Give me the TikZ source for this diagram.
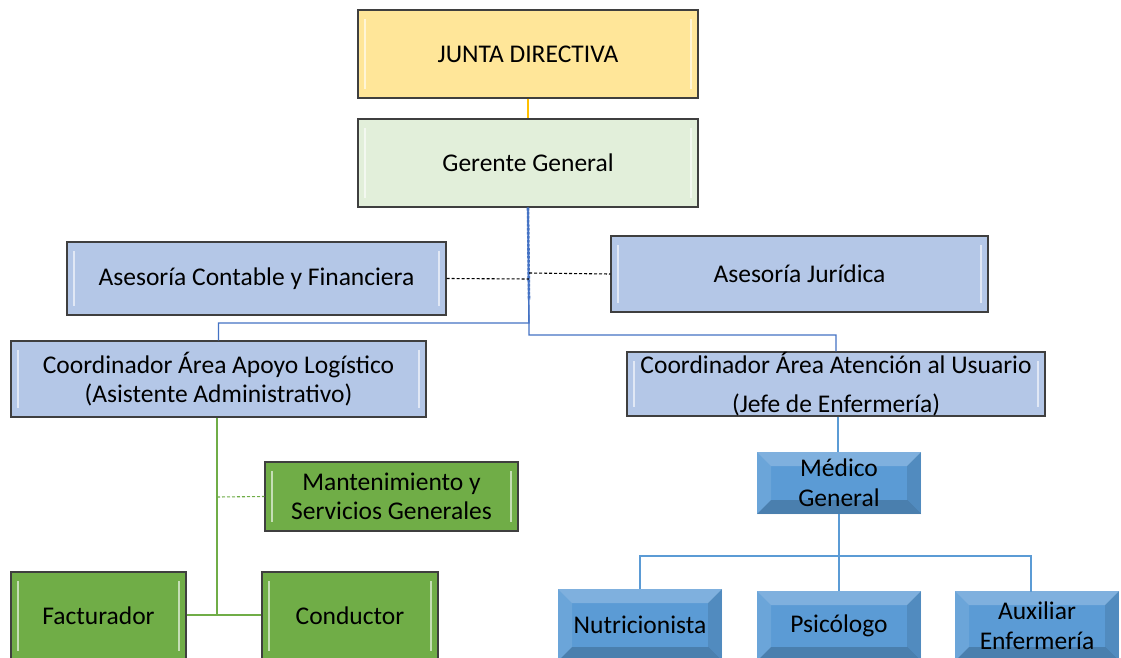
\documentclass[tikz,border=0pt]{standalone}
\usepackage{fontspec}
\setmainfont{Carlito}
\usetikzlibrary{calc}
\definecolor{cyellow}{HTML}{FFE699}
\definecolor{clgreen}{HTML}{E2EFDA}
\definecolor{clblue}{HTML}{B4C7E7}
\definecolor{cgreen}{HTML}{70AD47}
\definecolor{cblue}{HTML}{5B9BD5}
\definecolor{cdblue}{HTML}{4472C4}
\definecolor{corange}{HTML}{FFC000}
\definecolor{cborder}{HTML}{3F3F3F}
\tikzset{
  box/.style={draw=cborder, line width=1.1pt, inner sep=0pt, align=center,
    font=\fontsize{25.5}{29}\selectfont, text=black,
    path picture={
      \draw[white, opacity=.6, line width=1.4pt]
        ([shift={(7,9)}]path picture bounding box.north west) --
        ([shift={(7,-9)}]path picture bounding box.south west);
      \draw[white, opacity=.6, line width=1.4pt]
        ([shift={(-7,9)}]path picture bounding box.north east) --
        ([shift={(-7,-9)}]path picture bounding box.south east);
    }},
  bevelbox/.style={draw=none, fill=cblue, inner sep=0pt, align=center,
    font=\fontsize{25.5}{30}\selectfont, text=black,
    path picture={
      \fill[white, opacity=.22]
        (path picture bounding box.north west) -- (path picture bounding box.north east) --
        ([shift={(-14,14)}]path picture bounding box.north east) --
        ([shift={(14,14)}]path picture bounding box.north west) -- cycle;
      \fill[white, opacity=.10]
        (path picture bounding box.north west) -- ([shift={(14,14)}]path picture bounding box.north west) --
        ([shift={(14,-14)}]path picture bounding box.south west) --
        (path picture bounding box.south west) -- cycle;
      \fill[black, opacity=.10]
        (path picture bounding box.north east) -- ([shift={(-14,14)}]path picture bounding box.north east) --
        ([shift={(-14,-14)}]path picture bounding box.south east) --
        (path picture bounding box.south east) -- cycle;
      \fill[black, opacity=.18]
        (path picture bounding box.south west) -- (path picture bounding box.south east) --
        ([shift={(-14,-14)}]path picture bounding box.south east) --
        ([shift={(14,-14)}]path picture bounding box.south west) -- cycle;
    }},
  blueconn/.style={draw=cdblue, line width=1.3pt},
  lblueconn/.style={draw=cblue, line width=1.1pt},
  greenconn/.style={draw=cgreen, line width=1.8pt},
  dashconn/.style={draw=black, line width=1.1pt, dash pattern=on 3pt off 2pt},
}
\begin{document}
\begin{tikzpicture}[x=1pt, y=-1pt]
\useasboundingbox (0,0) rectangle (1121,658);
\clip (0,0) rectangle (1121,658);
\fill[white] (0,0) rectangle (1121,658);

% nodes
\node[box, fill=cyellow, minimum width=340pt, minimum height=88pt] (junta) at (528,54) {JUNTA DIRECTIVA};
\node[box, fill=clgreen, minimum width=340pt, minimum height=88pt] (gerente) at (528,163) {Gerente General};
\node[box, fill=clblue, minimum width=379pt, minimum height=73pt] (contable) at (256.5,278.5) {Asesoría Contable y Financiera};
\node[box, fill=clblue, minimum width=377pt, minimum height=76pt] (juridica) at (799.5,274) {Asesoría Jurídica};
\node[box, fill=clblue, minimum width=415pt, minimum height=76pt] (coordL) at (218.5,379) {Coordinador Área Apoyo Logístico\\(Asistente Administrativo)};
\node[box, fill=clblue, minimum width=418pt, minimum height=64pt] (coordR) at (836,384) {Coordinador Área Atención al Usuario\\[10pt](Jefe de Enfermería)};
\node[box, fill=cgreen, minimum width=253pt, minimum height=69pt] (mant) at (391.5,496.5) {Mantenimiento y\\Servicios Generales};
\node[box, fill=cgreen, minimum width=175pt, minimum height=88pt] (fact) at (98.5,616) {Facturador};
\node[box, fill=cgreen, minimum width=176pt, minimum height=88pt] (cond) at (350,616) {Conductor};
\node[bevelbox, minimum width=164pt, minimum height=62pt] (medico) at (839,483) {Médico\\General};
\node[bevelbox, minimum width=164pt, minimum height=72pt] (nutri) at (640,625) {Nutricionista};
\node[bevelbox, minimum width=164pt, minimum height=70pt] (psico) at (839,626) {Psicólogo};
\node[bevelbox, minimum width=164pt, minimum height=70pt] (aux) at (1037,626) {Auxiliar\\Enfermería};

% connectors
\draw[draw=corange, line width=1.3pt] (junta.south) -- (gerente.north);
\coordinate (hubL) at (529,323);
\coordinate (hubR) at (529,335);
\draw[blueconn] (gerente.south) -- (hubL) -| (coordL.north);
\draw[blueconn] (gerente.south) -- (hubR) -| (coordR.north);
\draw[cdblue, line width=2.6pt, dash pattern=on 3pt off 1pt] (gerente.south) -- (529,300);
\draw[dashconn] (contable.east) -- (529,279);
\draw[dashconn] (529,273) -- (juridica.west);

\draw[greenconn] (coordL.south -| 217,0) -- (217,615);
\draw[greenconn] (fact.east |- 0,615) -- (cond.west |- 0,615);
\draw[draw=cgreen, line width=1.1pt, dash pattern=on 3pt off 2pt] (217,497) -- (mant.west);

\draw[lblueconn] (coordR.south -| 838,0) -- (medico.north -| 838,0);
\coordinate (mhub) at (839,556);
\draw[lblueconn] (medico.south) -- (mhub);
\draw[lblueconn] (nutri.north) |- (mhub) -| (1031,592);
\draw[lblueconn] (mhub) -- (psico.north);
\end{tikzpicture}
\end{document}
